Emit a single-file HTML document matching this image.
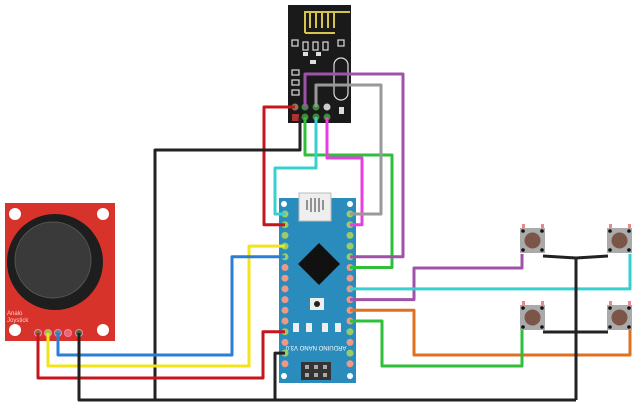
<!DOCTYPE html>
<html><head><style>html,body{margin:0;padding:0;background:#fff}svg{display:block}</style></head>
<body>
<svg width="636" height="405" viewBox="0 0 636 405" xmlns="http://www.w3.org/2000/svg" font-family="Liberation Sans, sans-serif">
<!-- NRF module -->
<rect x="288" y="5" width="63" height="118" fill="#1a1a1a"/>
<path d="M305 33 V12 H350 M305 33 H335 M310 12 V28 M316 12 V28 M322 12 V28 M328 12 V28 M334 12 V28" stroke="#d9c44a" stroke-width="2" fill="none"/>
<g fill="none" stroke="#ddd" stroke-width="1.2">
<rect x="292" y="40" width="6" height="6"/><rect x="303" y="42" width="5" height="8"/><rect x="313" y="42" width="5" height="8"/><rect x="323" y="42" width="5" height="8"/><rect x="338" y="40" width="6" height="6"/>
<rect x="292" y="70" width="7" height="5"/><rect x="292" y="80" width="7" height="5"/><rect x="292" y="90" width="7" height="5"/>
<rect x="334" y="58" width="14" height="42" rx="7"/>
</g>
<rect x="303" y="52" width="5" height="4" fill="#ddd"/><rect x="316" y="52" width="5" height="4" fill="#ddd"/><rect x="310" y="60" width="6" height="4" fill="#ddd"/>
<rect x="339" y="107" width="5" height="7" fill="#ddd"/>
<g><circle cx="295" cy="107" r="3.5" fill="#8a7a5a"/><circle cx="305" cy="107" r="3.5" fill="#3a8a3a"/><circle cx="316" cy="107" r="3.5" fill="#3a8a3a"/><circle cx="327" cy="107" r="3.5" fill="#ccc"/>
<rect x="292" y="114" width="7" height="7" fill="#a33"/><circle cx="305" cy="117" r="3.5" fill="#3a8a3a"/><circle cx="316" cy="117" r="3.5" fill="#3a8a3a"/><circle cx="327" cy="117" r="3.5" fill="#3a8a3a"/></g>

<!-- Joystick -->
<rect x="5" y="203" width="110" height="138" fill="#d8332a"/>
<circle cx="15" cy="214" r="6" fill="#fff"/><circle cx="103" cy="214" r="6" fill="#fff"/><circle cx="15" cy="330" r="6" fill="#fff"/><circle cx="103" cy="330" r="6" fill="#fff"/>
<circle cx="55" cy="262" r="48" fill="#1e1e1e"/>
<circle cx="53" cy="260" r="38" fill="#3a3a3a" stroke="#555" stroke-width="1"/>
<text x="7" y="315" font-size="6" fill="#fcc">Analo</text><text x="7" y="322" font-size="6" fill="#fcc">Joystick</text>
<g stroke="#e8b" stroke-width="1"><circle cx="38" cy="333" r="3.5" fill="#8a6a3a"/><circle cx="48" cy="333" r="3.5" fill="#9c3"/><circle cx="58" cy="333" r="3.5" fill="#5a8a9a"/><circle cx="68" cy="333" r="3.5" fill="#e66"/><circle cx="79" cy="333" r="3.5" fill="#3a6a3a"/></g>

<!-- Nano -->
<rect x="279" y="198" width="77" height="185" fill="#2a8cbc"/>
<rect x="299" y="193" width="32" height="28" fill="#eee" stroke="#bbb"/>
<path d="M307 210 V200 M311 212 V198 M315 212 V198 M319 212 V198 M323 210 V200" stroke="#555" stroke-width="1.2"/>
<polygon points="319,243 340,264 319,285 298,264" fill="#111"/>
<rect x="310" y="298" width="14" height="12" fill="#eee"/><circle cx="317" cy="304" r="3" fill="#222"/>
<rect x="293" y="323" width="6" height="9" fill="#eee"/><rect x="306" y="323" width="6" height="9" fill="#eee"/><rect x="322" y="323" width="6" height="9" fill="#eee"/><rect x="335" y="323" width="6" height="9" fill="#eee"/>
<rect x="301" y="362" width="30" height="18" fill="#333"/>
<g fill="#aaa"><rect x="305" y="365" width="4" height="4"/><rect x="314" y="365" width="4" height="4"/><rect x="323" y="365" width="4" height="4"/><rect x="305" y="373" width="4" height="4"/><rect x="314" y="373" width="4" height="4"/><rect x="323" y="373" width="4" height="4"/></g>
<circle cx="284" cy="204" r="3" fill="#fff"/><circle cx="350" cy="204" r="3" fill="#fff"/><circle cx="284" cy="376" r="3" fill="#fff"/><circle cx="350" cy="376" r="3" fill="#fff"/>
<text x="316" y="350" font-size="6" fill="#fff" text-anchor="middle" transform="rotate(180 316 348)">ARDUINO NANO V3.0</text>
<g id="pl">
<circle cx="285" cy="214" r="3.5" fill="#9c6"/><circle cx="285" cy="224.7" r="3.5" fill="#9c6"/><circle cx="285" cy="235.4" r="3.5" fill="#9c6"/><circle cx="285" cy="246.1" r="3.5" fill="#9c6"/><circle cx="285" cy="256.8" r="3.5" fill="#9c6"/>
<circle cx="285" cy="267.5" r="3.5" fill="#e98"/><circle cx="285" cy="278.2" r="3.5" fill="#e98"/><circle cx="285" cy="288.9" r="3.5" fill="#e98"/><circle cx="285" cy="299.6" r="3.5" fill="#e98"/><circle cx="285" cy="310.3" r="3.5" fill="#e98"/><circle cx="285" cy="321" r="3.5" fill="#e98"/>
<circle cx="285" cy="331.7" r="3.5" fill="#9c6"/><circle cx="285" cy="342.4" r="3.5" fill="#e98"/><circle cx="285" cy="353.1" r="3.5" fill="#9c6"/><circle cx="285" cy="363.8" r="3.5" fill="#e98"/>
</g>
<use href="#pl" transform="translate(65 0)"/>

<!-- wires -->
<g fill="none" stroke-width="3" stroke-linejoin="round">
<path d="M295 107 H264 V224.7 H285" stroke="#c4161c"/>
<path d="M300 117 V150 H155 V400" stroke="#222"/>
<path d="M305 117 V155 H392 V267.5 H350" stroke="#2fbf3a"/>
<path d="M316 117 V168 H275 V214 H285" stroke="#36d0d0"/>
<path d="M327 117 V158 H362 V224.7 H350" stroke="#e83ee0"/>
<path d="M305 107 V74 H403 V256.8 H350" stroke="#a051a8"/>
<path d="M316 107 V85 H381 V214 H350" stroke="#999"/>
<path d="M38 333 V378 H263 V331.7 H285" stroke="#c4161c"/>
<path d="M48 333 V366 H249 V246.1 H285" stroke="#f2e31a"/>
<path d="M58 333 V355 H232 V256.8 H285" stroke="#2a7fd4"/>
<path d="M79 333 V400 H576" stroke="#222"/>
<path d="M285 353.1 H275 V400" stroke="#222"/>
<path d="M350 299.6 H414 V268 H522 V254" stroke="#a051a8"/>
<path d="M350 288.9 H630 V254" stroke="#36d0d0"/>
<path d="M350 310.3 H414 V355 H630 V330" stroke="#e07020"/>
<path d="M350 321 H382 V366 H522 V330" stroke="#2fbf3a"/>
<path d="M576 400 V258 M543 256 L576 258 L608 256 M543 332 H608" stroke="#222"/>
</g>
<!-- buttons -->
<g id="bt">
<rect x="522" y="224" width="3" height="5" fill="#e88"/><rect x="541" y="224" width="3" height="5" fill="#e88"/>
<rect x="520" y="228" width="25" height="25" fill="#aaa"/>
<circle cx="532.5" cy="240.5" r="8" fill="#7a5548"/>
<circle cx="523" cy="231" r="1.8" fill="#111"/><circle cx="542" cy="231" r="1.8" fill="#111"/><circle cx="523" cy="250" r="1.8" fill="#111"/><circle cx="542" cy="250" r="1.8" fill="#111"/>
</g>
<use href="#bt" transform="translate(87 0)"/>
<use href="#bt" transform="translate(0 77)"/>
<use href="#bt" transform="translate(87 77)"/>
</svg>
</body></html>
